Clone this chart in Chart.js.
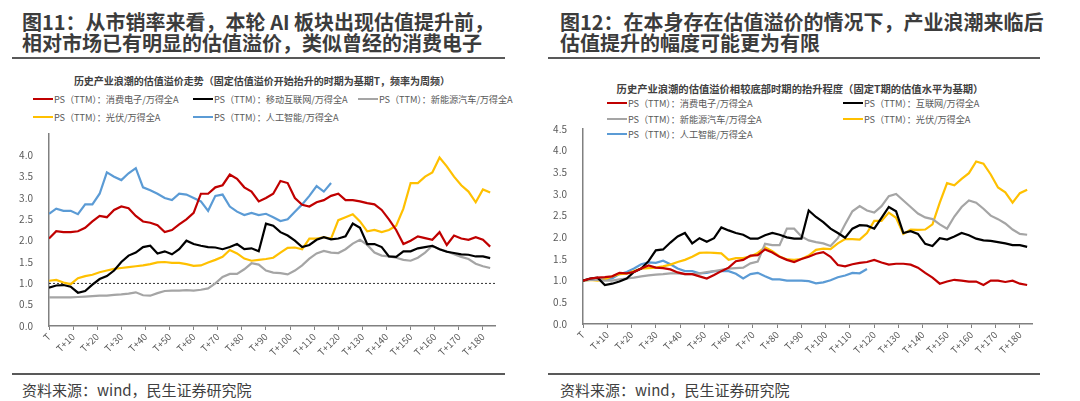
<!DOCTYPE html>
<html>
<head>
<meta charset="utf-8">
<script src="https://cdn.jsdelivr.net/npm/chart.js@4.4.1/dist/chart.umd.min.js"></script>
<style>
  body { margin: 0; width: 1080px; height: 401px; background: #fff; position: relative; overflow: hidden;
         font-family: "Noto Sans CJK SC", sans-serif; color: #404040; }
  .big { position: absolute; top: 11px; font-size: 20px; line-height: 21px; font-weight: 700; color: #3c3c3c; white-space: nowrap; }
  .rule { position: absolute; height: 2px; background: #595959; }
  .src { position: absolute; top: 380px; font-size: 15px; line-height: 20px; color: #404040; white-space: nowrap; }
  .ctitle { position: absolute; font-size: 10px; font-weight: 700; color: #404040; white-space: nowrap; transform: translate(-50%, -50%); }
  .leg { position: absolute; font-size: 9.2px; letter-spacing: -0.1px; color: #595959; white-space: nowrap; transform: translateY(-50%); display: flex; align-items: center; }
  .leg i { display: inline-block; width: 20px; height: 2.5px; margin-right: 1px; }
  canvas { position: absolute; }
</style>
</head>
<body>
<div class="big" style="left:22px">图11：从市销率来看，本轮 AI 板块出现估值提升前，<br>相对市场已有明显的估值溢价，类似曾经的消费电子</div>
<div class="big" style="left:560px">图12：在本身存在估值溢价的情况下，产业浪潮来临后<br>估值提升的幅度可能更为有限</div>
<div class="rule" style="left:12px;width:493px;top:57px"></div>
<div class="rule" style="left:548px;width:492px;top:57px"></div>

<div class="ctitle" style="left:262px;top:80px">历史产业浪潮的估值溢价走势（固定估值溢价开始抬升的时期为基期T，频率为周频）</div>
<div class="ctitle" style="left:800px;top:88px;font-size:10.3px">历史产业浪潮的估值溢价相较底部时期的抬升程度（固定T期的估值水平为基期）</div>
<div id="legendLeft"></div>
<div id="legendRight"></div>

<canvas id="chartLeft" width="540" height="250" style="left:0;top:120px"></canvas>
<canvas id="chartRight" width="540" height="255" style="left:540px;top:115px"></canvas>

<div class="rule" style="left:12px;width:493px;top:373px;height:1.5px"></div>
<div class="rule" style="left:548px;width:492px;top:373px;height:1.5px"></div>
<div class="src" style="left:22px">资料来源：wind，民生证券研究院</div>
<div class="src" style="left:560px">资料来源：wind，民生证券研究院</div>

<script>
// 周数（T 之后的第几周）
const weeks = [0,3,6,9,12,15,18,21,24,27,30,33,36,39,42,45,48,51,54,57,60,63,66,69,72,75,78,81,84,87,90,93,96,99,102,105,108,111,114,117,120,123,126,129,132,135,138,141,144,147,150,153,156,159,162,165,168,171,174,177,180,183];

// 图11 估值溢价（PS相对万得全A）
const leftConsumer = [2.05,2.22,2.2,2.2,2.22,2.3,2.45,2.58,2.55,2.72,2.8,2.76,2.58,2.45,2.42,2.36,2.2,2.25,2.38,2.5,2.65,3.1,3.1,3.25,3.3,3.55,3.45,3.25,3.15,2.92,3.0,3.1,3.4,3.35,3.0,2.84,2.8,2.9,2.95,3.05,3.1,2.95,2.95,2.92,2.88,2.85,2.72,2.5,2.25,1.92,2.0,2.1,2.06,2.02,2.2,1.9,2.12,2.05,2.02,2.08,2.02,1.86];
const leftMobile = [0.9,0.95,0.96,0.92,0.78,0.82,0.97,1.1,1.17,1.3,1.5,1.65,1.72,1.85,1.88,1.7,1.75,1.68,1.8,2.0,1.92,1.88,1.85,1.84,1.8,1.85,1.92,1.8,1.82,1.75,2.4,2.35,2.2,2.12,2.0,1.85,1.9,2.02,2.08,2.03,2.05,2.1,2.4,2.3,1.92,1.92,1.85,1.63,1.62,1.75,1.75,1.82,1.85,1.88,1.8,1.74,1.71,1.68,1.67,1.63,1.63,1.59];
const leftNev = [0.67,0.67,0.67,0.67,0.68,0.69,0.7,0.71,0.71,0.73,0.74,0.76,0.79,0.72,0.71,0.77,0.82,0.83,0.83,0.84,0.83,0.85,0.88,1.0,1.15,1.22,1.22,1.33,1.47,1.44,1.3,1.25,1.24,1.21,1.3,1.42,1.58,1.7,1.76,1.72,1.71,1.8,1.93,2.02,1.9,1.72,1.65,1.63,1.6,1.55,1.53,1.6,1.72,1.88,1.8,1.75,1.68,1.62,1.57,1.46,1.4,1.36];
const leftPv = [1.06,1.08,1.02,0.98,1.12,1.17,1.2,1.26,1.3,1.34,1.36,1.38,1.4,1.42,1.45,1.49,1.5,1.48,1.48,1.45,1.41,1.42,1.49,1.55,1.62,1.78,1.7,1.58,1.53,1.55,1.57,1.6,1.72,1.83,1.84,1.8,2.05,2.05,2.08,2.05,2.48,2.55,2.62,2.45,2.22,2.25,2.2,2.25,2.35,2.75,3.35,3.35,3.5,3.6,3.95,3.74,3.5,3.3,3.15,2.9,3.2,3.13];
const leftAi = [2.63,2.75,2.7,2.7,2.62,2.85,2.85,3.1,3.6,3.5,3.42,3.58,3.7,3.25,3.18,3.1,3.0,2.95,3.1,3.08,3.0,2.92,2.7,3.05,3.08,2.8,2.68,2.6,2.65,2.6,2.63,2.55,2.46,2.5,2.68,2.85,3.05,3.28,3.15,3.35,null,null,null,null,null,null,null,null,null,null,null,null,null,null,null,null,null,null,null,null,null,null];

// 图12 相对T期的估值抬升程度
const rightConsumer = [1.0,1.05,1.07,1.08,1.1,1.18,1.17,1.2,1.28,1.35,1.3,1.29,1.26,1.19,1.15,1.15,1.1,1.05,1.13,1.22,1.3,1.45,1.48,1.58,1.59,1.72,1.65,1.55,1.48,1.43,1.5,1.55,1.62,1.66,1.55,1.36,1.33,1.38,1.41,1.43,1.48,1.42,1.37,1.39,1.39,1.37,1.3,1.18,1.07,0.93,0.98,1.02,1.0,0.98,0.98,0.9,1.0,1.0,0.97,1.0,0.93,0.9];
const rightInternet = [1.0,1.05,1.07,0.9,0.93,0.98,1.05,1.2,1.28,1.45,1.7,1.72,1.88,2.02,2.1,1.86,1.98,1.9,1.98,2.23,2.16,2.1,2.06,1.97,1.97,2.05,2.1,2.06,2.0,1.97,1.97,2.62,2.47,2.35,2.2,2.1,1.99,2.2,2.28,2.27,2.2,2.45,2.7,2.6,2.1,2.14,2.08,1.85,1.8,1.98,1.95,2.02,2.1,2.05,1.97,1.93,1.92,1.89,1.86,1.82,1.82,1.78];
const rightNev = [1.0,1.02,1.02,1.0,1.0,1.03,1.05,1.07,1.1,1.12,1.14,1.15,1.17,1.17,1.15,1.15,1.17,1.2,1.22,1.25,1.28,1.29,1.3,1.4,1.44,1.85,1.82,1.82,2.2,2.2,2.02,1.93,1.89,1.86,1.8,1.98,2.3,2.6,2.72,2.62,2.57,2.72,2.95,3.0,2.85,2.7,2.55,2.46,2.42,2.3,2.2,2.48,2.7,2.85,2.8,2.66,2.5,2.42,2.32,2.18,2.08,2.06];
const rightPv = [1.0,1.02,1.0,1.03,1.1,1.15,1.16,1.22,1.28,1.29,1.3,1.33,1.37,1.43,1.48,1.55,1.64,1.65,1.64,1.63,1.48,1.52,1.52,1.56,1.64,1.77,1.68,1.56,1.49,1.48,1.5,1.58,1.71,1.74,1.73,1.86,1.96,1.96,1.95,2.1,2.38,2.38,2.57,2.45,2.08,2.18,2.17,2.18,2.3,2.8,3.25,3.2,3.35,3.48,3.75,3.7,3.45,3.15,3.04,2.8,3.02,3.1];
const rightAi = [1.0,1.03,1.03,1.03,1.05,1.15,1.2,1.28,1.38,1.42,1.41,1.46,1.38,1.28,1.22,1.22,1.17,1.18,1.22,1.22,1.22,1.16,1.05,1.15,1.18,1.1,1.03,1.03,1.0,1.0,1.0,0.99,0.94,0.96,1.01,1.08,1.12,1.18,1.17,1.27,null,null,null,null,null,null,null,null,null,null,null,null,null,null,null,null,null,null,null,null,null,null];

const namesLeft = ['PS（TTM）：消费电子/万得全A', 'PS（TTM）：移动互联网/万得全A', 'PS（TTM）：新能源汽车/万得全A', 'PS（TTM）：光伏/万得全A', 'PS（TTM）：人工智能/万得全A'];
const namesRight = ['PS（TTM）：消费电子/万得全A', 'PS（TTM）：互联网/万得全A', 'PS（TTM）：新能源汽车/万得全A', 'PS（TTM）：光伏/万得全A', 'PS（TTM）：人工智能/万得全A'];
const colors = ['#C00000', '#000000', '#A5A5A5', '#FFC000', '#5B9BD5'];
const baseLine = 1.0;

const FONT = '"Noto Sans CJK SC", sans-serif';

// 图例手动摆放，跟原图一致
function buildLegend(id, names, spots) {
  const box = document.getElementById(id);
  names.forEach((n, i) => {
    const d = document.createElement('div');
    d.className = 'leg';
    d.style.left = spots[i][0] + 'px';
    d.style.top = spots[i][1] + 'px';
    d.innerHTML = '<i style="background:' + colors[i] + '"></i>' + n;
    box.appendChild(d);
  });
}
buildLegend('legendLeft', namesLeft, [[33, 99], [193, 99], [358, 99], [33, 117], [193, 117]]);
buildLegend('legendRight', namesRight, [[607, 103], [843, 103], [607, 119], [843, 119], [607, 134]]);

// 1.0 处的虚线
const dashPlugin = {
  id: 'dashLine',
  beforeDatasetsDraw(chart) {
    if (!chart.options.plugins.dashLine) return;
    const {ctx, chartArea, scales} = chart;
    const y = scales.y.getPixelForValue(baseLine);
    ctx.save();
    ctx.strokeStyle = '#000';
    ctx.lineWidth = 0.8;
    ctx.setLineDash([2, 2]);
    ctx.beginPath();
    ctx.moveTo(chartArea.left, y);
    ctx.lineTo(chartArea.right, y);
    ctx.stroke();
    ctx.restore();
  }
};

function makeChart(canvasId, series, opts) {
  const datasets = series.map((arr, i) => ({
    data: weeks.map((w, k) => ({x: w, y: arr[k]})),
    borderColor: colors[i],
    borderWidth: 2.2,
    pointRadius: 0,
    tension: 0,
    fill: false
  }));
  return new Chart(document.getElementById(canvasId), {
    type: 'line',
    data: {datasets: datasets},
    options: {
      responsive: false,
      animation: false,
      devicePixelRatio: 1,
      layout: {padding: {left: 0, right: opts.padRight, top: opts.padTop, bottom: 0}},
      plugins: {legend: {display: false}, tooltip: {enabled: false}, dashLine: opts.dash},
      scales: {
        x: {
          type: 'linear', min: 0, max: 185,
          afterFit: s => { s.height = opts.xHeight; },
          ticks: {
            stepSize: 10, maxTicksLimit: 30, includeBounds: false, autoSkip: false,
            minRotation: 45, maxRotation: 45, padding: 1,
            color: '#595959', font: {family: FONT, size: 9.5},
            callback: v => v === 0 ? 'T' : 'T+' + v
          },
          grid: {display: true, drawOnChartArea: false, drawTicks: true, tickLength: 4, color: '#808080'},
          border: {color: '#808080', width: 1.5}
        },
        y: {
          min: 0, max: 4.5,
          afterFit: s => { s.width = opts.yWidth; },
          ticks: {
            stepSize: 0.5, padding: 8, color: '#595959', font: {family: FONT, size: 10},
            callback: v => (v > opts.topLabel ? '' : v.toFixed(1))
          },
          grid: {display: false},
          border: {display: true, color: '#808080', width: 1.5}
        }
      }
    },
    plugins: [dashPlugin]
  });
}

makeChart('chartLeft', [leftConsumer, leftMobile, leftNev, leftPv, leftAi],
  {padRight: 45, padTop: 10.5, xHeight: 44, yWidth: 49, dash: true, topLabel: 4.0});
makeChart('chartRight', [rightConsumer, rightInternet, rightNev, rightPv, rightAi],
  {padRight: 48, padTop: 9, xHeight: 46, yWidth: 43, dash: false, topLabel: 4.5});
</script>
</body>
</html>
